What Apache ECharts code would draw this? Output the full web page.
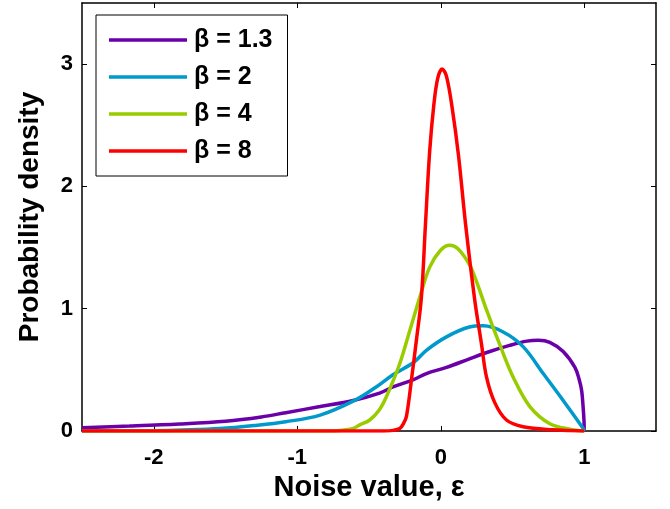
<!DOCTYPE html>
<html>
<head>
<meta charset="utf-8">
<script src="https://cdn.jsdelivr.net/npm/echarts@6/dist/echarts.min.js"></script>
<style>
  html, body { margin: 0; padding: 0; background: #fff; }
  #chart { width: 670px; height: 509px; }
</style>
</head>
<body>
<div id="chart"></div>
<script>
// values, [noise value, density]
var beta13 = [[-2.5, 0.027], [-2.17, 0.04], [-1.82, 0.057], [-1.5, 0.08], [-1.25, 0.115], [-1.08, 0.15],
  [-0.84, 0.2], [-0.61, 0.25], [-0.426, 0.31], [-0.333, 0.36], [-0.19, 0.42], [-0.1, 0.47], [0.04, 0.52],
  [0.2, 0.59], [0.342, 0.65], [0.48, 0.7], [0.6, 0.735], [0.68, 0.742], [0.76, 0.725], [0.853, 0.65],
  [0.935, 0.52], [0.965, 0.42], [0.982, 0.33], [0.993, 0.18], [0.998, 0.09], [1.0, 0]];
var beta2 = [[-2.5, 0], [-2.0, 0.003], [-1.8, 0.008], [-1.54, 0.02], [-1.3, 0.045], [-1.08, 0.076],
  [-0.84, 0.13], [-0.6, 0.25], [-0.45, 0.36], [-0.333, 0.46], [-0.19, 0.56], [-0.1, 0.66], [0.04, 0.77],
  [0.2, 0.85], [0.295, 0.86], [0.435, 0.81], [0.574, 0.69], [0.714, 0.47], [0.853, 0.25], [0.993, 0.02], [1, 0]];
var beta4 = [[-2.5, 0], [-0.8, 0], [-0.7, 0.005], [-0.61, 0.02], [-0.565, 0.05], [-0.495, 0.09], [-0.43, 0.17],
  [-0.379, 0.28], [-0.286, 0.55], [-0.216, 0.82], [-0.147, 1.09], [-0.077, 1.34], [0, 1.48], [0.063, 1.52],
  [0.12, 1.49], [0.2, 1.36], [0.25, 1.22], [0.319, 0.99], [0.41, 0.71], [0.505, 0.44], [0.621, 0.2],
  [0.76, 0.06], [0.9, 0.015], [1, 0]];
var beta8 = [[-2.5, 0], [-0.4, 0], [-0.33, 0.005], [-0.286, 0.02], [-0.26, 0.06], [-0.239, 0.12], [-0.204, 0.42],
  [-0.17, 0.74], [-0.135, 1.09], [-0.107, 1.68], [-0.077, 2.29], [-0.047, 2.68], [-0.02, 2.89], [0.01, 2.96],
  [0.04, 2.9], [0.08, 2.64], [0.124, 2.25], [0.174, 1.68], [0.237, 1.07], [0.284, 0.71], [0.319, 0.44],
  [0.377, 0.23], [0.458, 0.09], [0.574, 0.035], [0.78, 0.01], [1, 0]];

var seriesNames = ["β = 1.3", "β = 2", "β = 4", "β = 8"];
var seriesData = [beta13, beta2, beta4, beta8];
var colors = ["#6a00a8", "#0099cc", "#99cc00", "#ff0000"];
var xTicks = [-2, -1, 0, 1];
var yTicks = [0, 1, 2, 3];

var fontFam = "'Liberation Sans', Arial, sans-serif";
var myChart = echarts.init(document.getElementById("chart"));

var series = [];
seriesData.forEach(function (d, i) {
  series.push({
    name: seriesNames[i],
    type: "line",
    data: d,
    smooth: 0.35,
    symbol: "none",
    lineStyle: { color: colors[i], width: 3.5 },
    itemStyle: { color: colors[i] }
  });
});

var axisLine = { show: true, onZero: false, lineStyle: { color: "#000", width: 1.5 } };

var option = {
  animation: false,
  backgroundColor: "#fff",
  grid: { left: 82, right: 14, top: 3, bottom: 78, containLabel: false },
  legend: {
    orient: "vertical",
    left: 96,
    top: 15,
    icon: "rect",
    itemWidth: 78,
    itemHeight: 3.5,
    itemGap: 11,
    padding: [12, 15, 12, 13],
    borderColor: "#000",
    borderWidth: 1,
    backgroundColor: "#fff",
    data: seriesNames,
    textStyle: { color: "#000", fontSize: 25, fontWeight: "bold", fontFamily: fontFam, lineHeight: 26, padding: [0, 0, 0, 2] }
  },
  xAxis: [{
    type: "value",
    min: -2.5,
    max: 1.5,
    position: "bottom",
    name: "Noise value, ε",
    nameLocation: "middle",
    nameGap: 42,
    nameTextStyle: { color: "#000", fontSize: 29, fontWeight: "bold", fontFamily: fontFam },
    axisLine: axisLine,
    axisTick: { show: true, inside: true, length: 5, customValues: xTicks, lineStyle: { color: "#000" } },
    axisLabel: { customValues: xTicks, color: "#000", fontSize: 22, fontWeight: "bold", fontFamily: fontFam, margin: 16 },
    splitLine: { show: false }
  }, {
    type: "value",
    min: -2.5,
    max: 1.5,
    position: "top",
    axisLine: axisLine,
    axisTick: { show: true, inside: true, length: 5, customValues: xTicks, lineStyle: { color: "#000" } },
    axisLabel: { show: false },
    splitLine: { show: false }
  }],
  yAxis: [{
    type: "value",
    min: 0,
    max: 3.5,
    position: "left",
    name: "Probability density",
    nameLocation: "middle",
    nameGap: 38,
    nameTextStyle: { color: "#000", fontSize: 28, fontWeight: "bold", fontFamily: fontFam },
    axisLine: axisLine,
    axisTick: { show: true, inside: true, length: 5, customValues: yTicks, lineStyle: { color: "#000" } },
    axisLabel: { customValues: yTicks, color: "#000", fontSize: 22, fontWeight: "bold", fontFamily: fontFam, margin: 9 },
    splitLine: { show: false }
  }, {
    type: "value",
    min: 0,
    max: 3.5,
    position: "right",
    axisLine: axisLine,
    axisTick: { show: true, inside: true, length: 5, customValues: yTicks, lineStyle: { color: "#000" } },
    axisLabel: { show: false },
    splitLine: { show: false }
  }],
  series: series
};
myChart.setOption(option, true);
</script>
</body>
</html>
